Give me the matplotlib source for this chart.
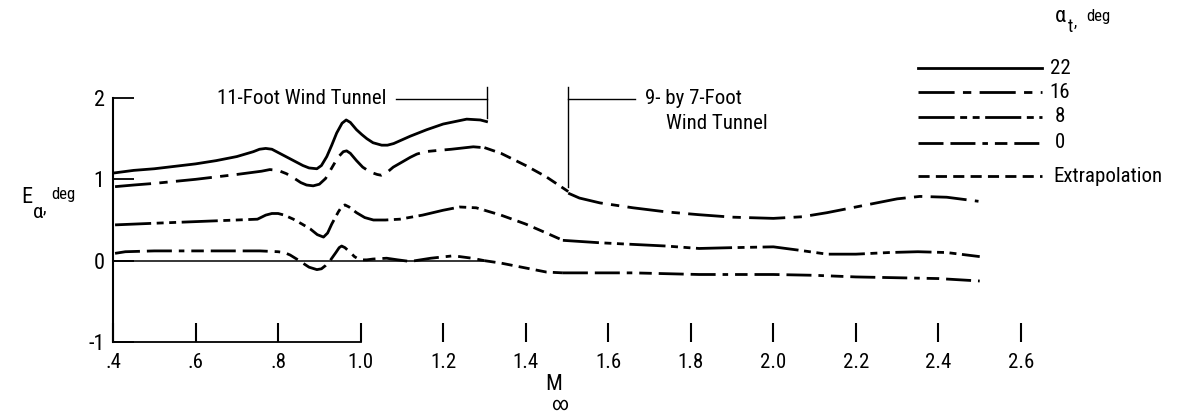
import matplotlib
matplotlib.use("Agg")
import matplotlib.pyplot as plt
from matplotlib.lines import Line2D
from matplotlib import font_manager

# Flow-angularity error vs. Mach number, 11-Foot tunnel (alpha_t = 22, 16, 8, 0)
m22 = [0.405, 0.45, 0.50, 0.55, 0.60, 0.65, 0.70, 0.74, 0.755, 0.77, 0.785, 0.80, 0.83, 0.86,
       0.875, 0.894, 0.905, 0.918, 0.93, 0.942, 0.955, 0.965, 0.975, 0.99, 1.003, 1.015, 1.03,
       1.051, 1.065, 1.08, 1.12, 1.16, 1.20, 1.257, 1.29, 1.305]
e22 = [1.08, 1.11, 1.13, 1.16, 1.19, 1.23, 1.28, 1.34, 1.37, 1.38, 1.37, 1.33, 1.25, 1.17,
       1.14, 1.13, 1.17, 1.28, 1.42, 1.57, 1.69, 1.73, 1.70, 1.61, 1.55, 1.50, 1.45,
       1.42, 1.42, 1.44, 1.53, 1.61, 1.68, 1.74, 1.73, 1.71]

m16 = [0.405, 0.45, 0.50, 0.60, 0.70, 0.76, 0.78, 0.80, 0.82, 0.837, 0.855, 0.869, 0.885,
       0.90, 0.915, 0.93, 0.945, 0.958, 0.966, 0.975, 0.99, 1.005, 1.023, 1.04, 1.05, 1.065,
       1.079, 1.103, 1.12, 1.136, 1.156, 1.176, 1.22, 1.273, 1.297]
e16 = [0.91, 0.93, 0.95, 1.00, 1.06, 1.10, 1.12, 1.11, 1.07, 1.02, 0.96, 0.93, 0.92,
       0.94, 1.01, 1.14, 1.27, 1.34, 1.35, 1.32, 1.23, 1.15, 1.09, 1.06, 1.05, 1.09,
       1.15, 1.22, 1.27, 1.31, 1.34, 1.35, 1.37, 1.40, 1.39]

m8 = [0.405, 0.50, 0.60, 0.70, 0.75, 0.77, 0.785, 0.80, 0.815, 0.837, 0.858, 0.878, 0.895,
      0.91, 0.92, 0.93, 0.946, 0.955, 0.962, 0.972, 0.99, 1.01, 1.031, 1.06, 1.095, 1.15,
      1.20, 1.24, 1.28, 1.30]
e8 = [0.44, 0.46, 0.48, 0.50, 0.51, 0.56, 0.58, 0.58, 0.56, 0.51, 0.45, 0.39, 0.32,
      0.29, 0.34, 0.45, 0.60, 0.67, 0.685, 0.66, 0.59, 0.53, 0.50, 0.50, 0.51, 0.56,
      0.62, 0.66, 0.65, 0.62]

m0 = [0.405, 0.43, 0.50, 0.60, 0.70, 0.756, 0.80, 0.815, 0.829, 0.845, 0.86, 0.875, 0.894,
      0.905, 0.915, 0.926, 0.94, 0.948, 0.954, 0.962, 0.975, 0.985, 0.998, 1.015, 1.03,
      1.063, 1.09, 1.12, 1.17, 1.225, 1.27, 1.30]
e0 = [0.09, 0.11, 0.12, 0.12, 0.12, 0.12, 0.11, 0.10, 0.07, 0.02, -0.03, -0.08, -0.11,
      -0.10, -0.06, 0.0, 0.10, 0.16, 0.18, 0.16, 0.10, 0.05, 0.01, 0.01, 0.02,
      0.03, 0.01, -0.01, 0.03, 0.06, 0.03, 0.0]

# extrapolated spans between the two tunnels
m16_ext = [1.30, 1.34, 1.40, 1.45, 1.503]
e16_ext = [1.39, 1.32, 1.17, 1.03, 0.85]
m8_ext = [1.30, 1.34, 1.40, 1.45, 1.49]
e8_ext = [0.62, 0.56, 0.45, 0.34, 0.25]
m0_ext = [1.30, 1.34, 1.40, 1.45, 1.49]
e0_ext = [0.0, -0.03, -0.09, -0.14, -0.15]

# 9- by 7-Foot tunnel curves
m16_97 = [1.503, 1.53, 1.58, 1.66, 1.74, 1.82, 1.90, 2.00, 2.07, 2.13, 2.19, 2.25, 2.30,
          2.355, 2.42, 2.497]
e16_97 = [0.83, 0.77, 0.71, 0.65, 0.60, 0.565, 0.535, 0.52, 0.54, 0.59, 0.65, 0.71, 0.76,
          0.79, 0.78, 0.73]
m8_97 = [1.49, 1.58, 1.66, 1.74, 1.82, 1.90, 2.00, 2.06, 2.13, 2.20, 2.28, 2.35, 2.42, 2.50]
e8_97 = [0.25, 0.22, 0.20, 0.18, 0.15, 0.16, 0.17, 0.13, 0.08, 0.08, 0.10, 0.11, 0.10, 0.05]
m0_97 = [1.49, 1.58, 1.66, 1.74, 1.82, 1.90, 2.00, 2.10, 2.20, 2.30, 2.40, 2.50]
e0_97 = [-0.15, -0.15, -0.15, -0.16, -0.17, -0.17, -0.17, -0.18, -0.20, -0.21, -0.22, -0.25]

x_ticks = [0.4, 0.6, 0.8, 1.0, 1.2, 1.4, 1.6, 1.8, 2.0, 2.2, 2.4, 2.6]
x_labels = [".4", ".6", ".8", "1.0", "1.2", "1.4", "1.6", "1.8", "2.0", "2.2", "2.4", "2.6"]
y_ticks = [-1, 0, 1, 2]
y_labels = ["-1", "0", "1", "2"]
legend_labels = ["22", "16", "8", "0", "Extrapolation"]

# prefer a narrow face if one is around
names = {f.name for f in font_manager.fontManager.ttflist}
narrow = [n for n in ["Liberation Sans Narrow", "Roboto Condensed", "Open Sans Condensed"] if n in names]
plt.rcParams["font.family"] = narrow[:1] + ["DejaVu Sans"]
plt.rcParams["font.stretch"] = "condensed"
plt.rcParams["lines.scale_dashes"] = False
FS = 15 if narrow else 13

LW = 2.0
styles = {
    "22": "-",
    "16": (0, (26, 6, 6, 6)),
    "8": (0, (26, 4, 5, 4, 5, 4)),
    "0": (0, (18, 5, 18, 5, 4, 5, 9, 5)),
    "Extrapolation": (0, (8, 4.5)),
}

W, H = 1180, 418


def px(x, y):
    # pixel position from the top-left corner -> figure fraction
    return x / W, 1 - y / H


fig = plt.figure(figsize=(W / 100, H / 100), dpi=100)
ax = fig.add_axes([113 / W, (H - 342) / H, 908 / W, 244 / H])
ax.set_xlim(0.4, 2.6)
ax.set_ylim(-1, 2)

for s in ["top", "right", "bottom"]:
    ax.spines[s].set_visible(False)
ax.spines["left"].set_linewidth(1.5)

ax.set_xticks(x_ticks)
ax.set_xticklabels(x_labels, fontsize=FS)
ax.tick_params(axis="x", direction="in", length=13.5, width=1.5, pad=8)
ax.set_yticks(y_ticks)
ax.set_yticklabels(y_labels, fontsize=FS + 1)
ax.tick_params(axis="y", direction="in", length=15, width=1.3, pad=6)

# reference lines at 0 and -1
ax.plot([0.4, 1.30], [0, 0], color="black", lw=1.1, clip_on=False)
ax.plot([0.4, 1.0], [-1, -1], color="black", lw=1.3, clip_on=False)

# 11-Foot data
ax.plot(m22, e22, color="black", lw=LW, ls=styles["22"])
ax.plot(m16, e16, color="black", lw=LW, ls=styles["16"])
ax.plot(m8, e8, color="black", lw=LW, ls=styles["8"])
ax.plot(m0, e0, color="black", lw=LW, ls=styles["0"])

# extrapolation
for mx, ex in [(m16_ext, e16_ext), (m8_ext, e8_ext), (m0_ext, e0_ext)]:
    ax.plot(mx, ex, color="black", lw=LW, ls=styles["Extrapolation"])

# 9- by 7-Foot data
ax.plot(m16_97, e16_97, color="black", lw=LW, ls=styles["16"])
ax.plot(m8_97, e8_97, color="black", lw=LW, ls=styles["8"])
ax.plot(m0_97, e0_97, color="black", lw=LW, ls=styles["0"])

# tunnel range brackets
ax.text(0.652, 1.99, "11-Foot Wind Tunnel", fontsize=FS, va="center", ha="left")
ax.plot([1.085, 1.305], [1.99, 1.99], color="black", lw=1.0, clip_on=False)
ax.plot([1.305, 1.305], [2.13, 1.76], color="black", lw=1.0, clip_on=False)
ax.plot([1.503, 1.503], [2.13, 0.91], color="black", lw=1.0, clip_on=False)
ax.plot([1.503, 1.665], [1.99, 1.99], color="black", lw=1.0, clip_on=False)
ax.text(1.69, 1.99, "9- by 7-Foot", fontsize=FS, va="center", ha="left")
ax.text(1.74, 1.69, "Wind Tunnel", fontsize=FS, va="center", ha="left")

# y axis title: E sub alpha, deg
fig.text(*px(21, 198), "E", fontsize=FS + 1, va="center", ha="left")
fig.text(*px(33, 212), "α", fontsize=FS, va="center", ha="left")
fig.text(*px(43, 207), ",", fontsize=FS - 2, va="center", ha="left")
fig.text(*px(51, 195), "deg", fontsize=FS - 3, va="center", ha="left")

# x axis title: M sub infinity
fig.text(*px(554, 385), "M", fontsize=FS + 1, va="center", ha="center")
fig.text(*px(560, 405), "∞", fontsize=FS - 1, va="center", ha="center")

# legend
fig.text(*px(1055, 17), "α", fontsize=FS + 1, va="center", ha="left")
fig.text(*px(1068, 27), "t", fontsize=FS - 2, va="center", ha="left")
fig.text(*px(1074, 22), ",", fontsize=FS - 3, va="center", ha="left")
fig.text(*px(1086, 17), "deg", fontsize=FS - 3, va="center", ha="left")
leg_y = [68, 92, 117, 143, 176]
for lab, yy in zip(legend_labels, leg_y):
    x0, y0 = px(918, yy)
    x1, _ = px(1042, yy)
    fig.add_artist(Line2D([x0, x1], [y0, y0], transform=fig.transFigure,
                          color="black", lw=LW, ls=styles[lab]))
    if lab == "Extrapolation":
        fig.text(*px(1053, yy), lab, fontsize=FS, va="center", ha="left")
    else:
        fig.text(*px(1060, yy), lab, fontsize=FS, va="center", ha="center")

fig.savefig("out.png", dpi=100)
